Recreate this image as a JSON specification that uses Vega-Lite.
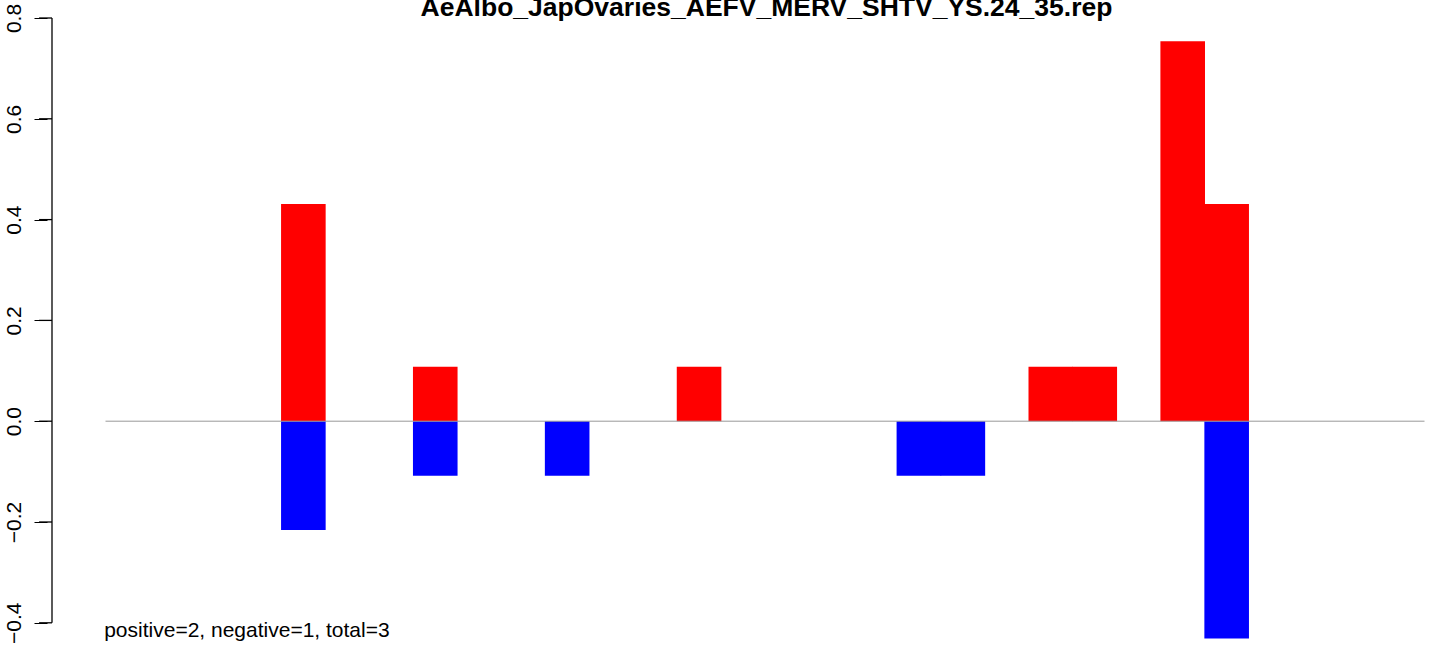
{
  "$schema": "https://vega.github.io/schema/vega-lite/v6.json",
  "width": 1379,
  "height": 630,
  "autosize": "none",
  "padding": {"left": 47, "top": 18, "right": 0, "bottom": 0},
  "background": "white",
  "config": {
    "view": {"stroke": null},
    "font": "Liberation Sans",
    "axisY": {
      "domain": false,
      "grid": false,
      "ticks": true,
      "tickSize": 13,
      "tickColor": "black",
      "tickWidth": 1,
      "tickOpacity": 1,
      "labelAngle": 270,
      "labelAlign": "center",
      "labelBaseline": "bottom",
      "labelPadding": 10,
      "labelFontSize": 21,
      "labelFont": "Liberation Sans",
      "labelColor": "black",
      "labelOverlap": false,
      "labelBound": false,
      "labelFlush": false
    }
  },
  "title": {
    "text": "AeAlbo_JapOvaries_AEFV_MERV_SHTV_YS.24_35.rep",
    "font": "Liberation Sans",
    "fontSize": 26.5,
    "fontWeight": "bold",
    "color": "black",
    "anchor": "middle",
    "frame": "group",
    "dx": 30,
    "dy": 41,
    "offset": 2,
    "baseline": "alphabetic"
  },
  "layer": [
    {
      "data": {
        "values": [
          {"pos": 1, "positive": 0, "negative": 0},
          {"pos": 2, "positive": 0, "negative": 0},
          {"pos": 3, "positive": 0, "negative": 0},
          {"pos": 4, "positive": 0, "negative": 0},
          {"pos": 5, "positive": 0.431, "negative": -0.216},
          {"pos": 6, "positive": 0, "negative": 0},
          {"pos": 7, "positive": 0, "negative": 0},
          {"pos": 8, "positive": 0.108, "negative": -0.108},
          {"pos": 9, "positive": 0, "negative": 0},
          {"pos": 10, "positive": 0, "negative": 0},
          {"pos": 11, "positive": 0, "negative": -0.108},
          {"pos": 12, "positive": 0, "negative": 0},
          {"pos": 13, "positive": 0, "negative": 0},
          {"pos": 14, "positive": 0.108, "negative": 0},
          {"pos": 15, "positive": 0, "negative": 0},
          {"pos": 16, "positive": 0, "negative": 0},
          {"pos": 17, "positive": 0, "negative": 0},
          {"pos": 18, "positive": 0, "negative": 0},
          {"pos": 19, "positive": 0, "negative": -0.108},
          {"pos": 20, "positive": 0, "negative": -0.108},
          {"pos": 21, "positive": 0, "negative": 0},
          {"pos": 22, "positive": 0.108, "negative": 0},
          {"pos": 23, "positive": 0.108, "negative": 0},
          {"pos": 24, "positive": 0, "negative": 0},
          {"pos": 25, "positive": 0.754, "negative": 0},
          {"pos": 26, "positive": 0.431, "negative": -0.431},
          {"pos": 27, "positive": 0, "negative": 0},
          {"pos": 28, "positive": 0, "negative": 0},
          {"pos": 29, "positive": 0, "negative": 0},
          {"pos": 30, "positive": 0, "negative": 0}
        ]
      },
      "transform": [{"fold": ["positive", "negative"], "as": ["series", "value"]}],
      "mark": {"type": "bar", "width": 44.6},
      "encoding": {
        "x": {"field": "pos", "type": "quantitative", "scale": {"domain": [-0.717, 30.42], "nice": false, "zero": false}, "axis": null},
        "y": {
          "field": "value", "type": "quantitative", "stack": null,
          "scale": {"domain": [-0.45, 0.8], "nice": false, "zero": false},
          "axis": {"values": [-0.4, -0.2, 0, 0.2, 0.4, 0.6, 0.8], "format": ".1f", "title": null, "ticks": true, "tickSize": 13}
        },
        "y2": {"datum": 0},
        "color": {"field": "series", "type": "nominal", "scale": {"domain": ["positive", "negative"], "range": ["#ff0000", "#0000ff"]}, "legend": null}
      }
    },
    {
      "data": {"values": [{"from": 0.5, "to": 30.5, "level": 0}]},
      "mark": {"type": "rule", "color": "#999999", "strokeWidth": 1},
      "encoding": {
        "x": {"field": "from", "type": "quantitative"},
        "x2": {"field": "to"},
        "y": {"field": "level", "type": "quantitative"}
      }
    },
    {
      "data": {"values": [{"at": -0.717, "low": -0.4, "high": 0.8}]},
      "mark": {"type": "rule", "color": "black", "strokeWidth": 1.3},
      "encoding": {
        "x": {"field": "at", "type": "quantitative"},
        "y": {"field": "low", "type": "quantitative"},
        "y2": {"field": "high"}
      }
    },
    {
      "data": {"values": [
        {"tick": -0.4, "from": -1.0105, "to": -0.717},
        {"tick": -0.2, "from": -1.0105, "to": -0.717},
        {"tick": 0.0, "from": -1.0105, "to": -0.717},
        {"tick": 0.2, "from": -1.0105, "to": -0.717},
        {"tick": 0.4, "from": -1.0105, "to": -0.717},
        {"tick": 0.6, "from": -1.0105, "to": -0.717},
        {"tick": 0.8, "from": -1.0105, "to": -0.717}
      ]},
      "mark": {"type": "rule", "color": "black", "strokeWidth": 1.3},
      "encoding": {
        "x": {"field": "from", "type": "quantitative"},
        "x2": {"field": "to"},
        "y": {"field": "tick", "type": "quantitative"}
      }
    },
    {
      "data": {"values": [{"label": "positive=2, negative=1, total=3", "at": 0.47, "level": -0.4276}]},
      "mark": {"type": "text", "align": "left", "baseline": "alphabetic", "fontSize": 21, "font": "Liberation Sans", "color": "black"},
      "encoding": {
        "x": {"field": "at", "type": "quantitative"},
        "y": {"field": "level", "type": "quantitative"},
        "text": {"field": "label"}
      }
    }
  ]
}
